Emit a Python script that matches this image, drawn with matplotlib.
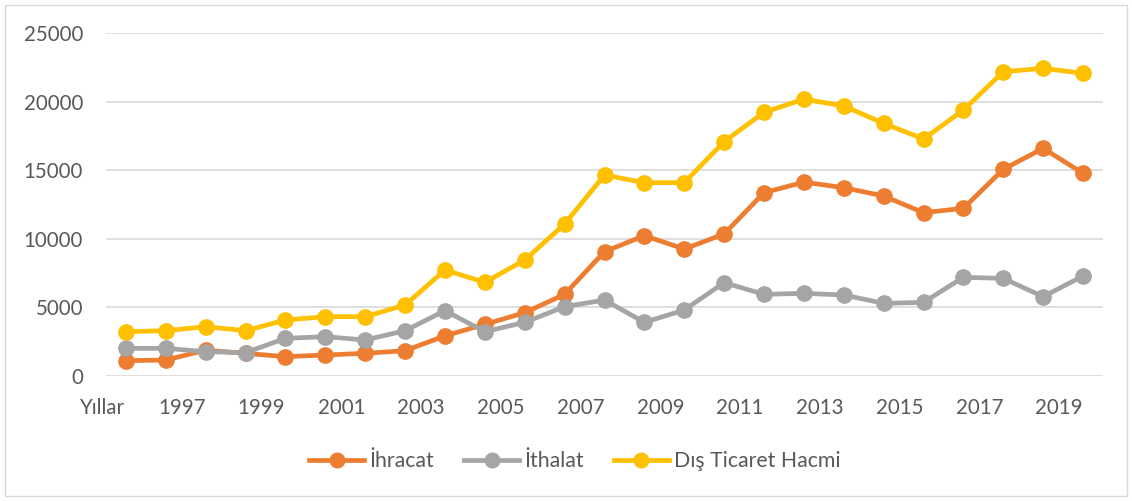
import matplotlib
matplotlib.use("Agg")
import matplotlib.pyplot as plt
from matplotlib.lines import Line2D
from matplotlib.patches import Rectangle
import matplotlib.transforms as mtransforms

plt.rcParams['font.family'] = ['Lato', 'DejaVu Sans']

# Data (25 yearly points)
ihracat = [1118, 1166, 1880, 1652, 1409, 1531, 1652, 1846, 2930, 3766, 4616, 5950,
           9062, 10229, 9257, 10350, 13362, 14130, 13727, 13120, 11905, 12221, 15063, 16594, 14771]
ithalat = [2016, 2016, 1774, 1701, 2745, 2867, 2624, 3302, 4762, 3229, 3911, 5053,
           5539, 3911, 4810, 6803, 5952, 6025, 5904, 5296, 5369, 7191, 7118, 5782, 7289]
dis_ticaret = [3229, 3302, 3594, 3302, 4082, 4325, 4325, 5175, 7726, 6827, 8455, 11079,
               14650, 14091, 14091, 17080, 19218, 20180, 19679, 18416, 17274, 19388, 22180, 22423, 22059]
x_labels = ["Yıllar", "1997", "1999", "2001", "2003", "2005", "2007", "2009",
            "2011", "2013", "2015", "2017", "2019"]
series_names = ["İhracat", "İthalat", "Dış Ticaret Hacmi"]
colors = ["#ED7D31", "#A5A5A5", "#FFC000"]
text_color = '#595959'

DPI = 100
fig = plt.figure(figsize=(11.32, 5.01), dpi=DPI)
renderer = fig.canvas.get_renderer()


def fit_size(s, target_px, base=14.0):
    t = fig.text(0, 0, s, fontsize=base)
    w = t.get_window_extent(renderer).width
    t.remove()
    return base * target_px / w


tick_fs = fit_size("25000", 60)
leg_fs = fit_size("Dış Ticaret Hacmi", 166)

ax = fig.add_axes([106/1132, 1-376/501, (1103-106)/1132, (376-33)/501])

x = list(range(len(ihracat)))
for vals, c, name in zip([ihracat, ithalat, dis_ticaret], colors, series_names):
    ax.plot(x, vals, color=c, lw=3.4, marker='o', markersize=11, label=name,
            solid_capstyle='round', solid_joinstyle='round', zorder=3)

ax.set_xlim(-0.5, len(x) - 0.5)
ax.set_ylim(0, 25000)
ax.set_yticks(range(0, 25001, 5000))
ax.yaxis.grid(True, color='#D9D9D9', lw=1.2)
ax.set_axisbelow(True)
for s in ax.spines.values():
    s.set_visible(False)
ax.tick_params(axis='y', length=0, pad=16.5, labelsize=tick_fs, labelcolor=text_color)
ax.set_xticks([])

trans = mtransforms.blended_transform_factory(ax.transData, ax.transAxes)
for k, lab in enumerate(x_labels):
    ax.text(2*k - 0.6, -(408-376)/343, lab, transform=trans, ha='center', va='center',
            fontsize=tick_fs, color=text_color)

fs_px = leg_fs * DPI / 72
handles = [Line2D([0], [0], color=c, lw=3.4, marker='o', markersize=10.5) for c in colors]
leg = fig.legend(handles, series_names, loc='center', bbox_to_anchor=(575/1132, 1-461/501),
                 ncol=3, frameon=False, fontsize=leg_fs, handlelength=55/fs_px,
                 handletextpad=5/fs_px, columnspacing=30/fs_px, borderpad=0, borderaxespad=0)
for t in leg.get_texts():
    t.set_color(text_color)

fig.patches.append(Rectangle((5/1132, 5/501), 1122/1132, 491/501, transform=fig.transFigure,
                             fill=False, edgecolor='#D9D9D9', lw=1))

fig.savefig("out.png", dpi=DPI)
